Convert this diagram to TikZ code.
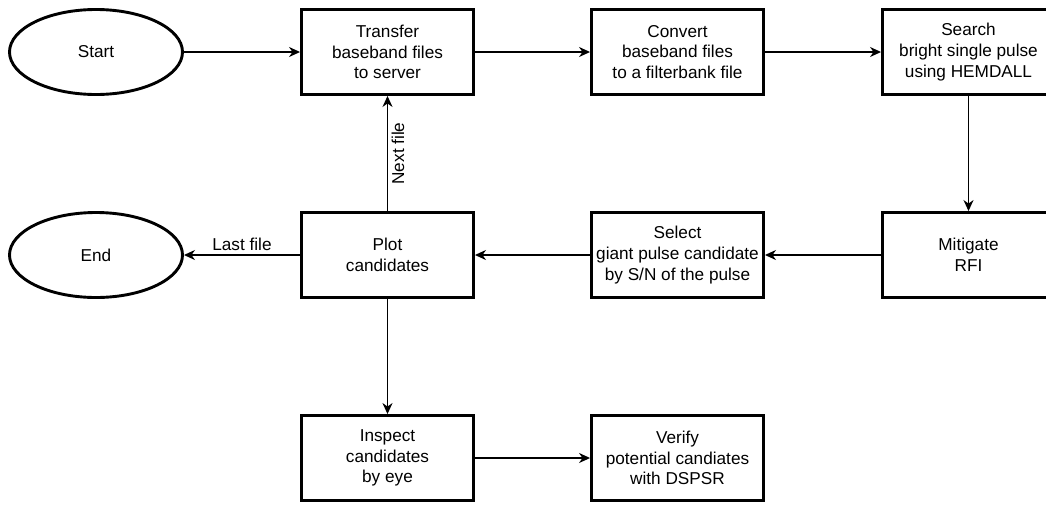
\documentclass[tikz,border=0pt]{standalone}
\usepackage{fontspec}
\setmainfont{Liberation Sans}
\usetikzlibrary{shapes.geometric}
\usetikzlibrary{arrows.meta}
\tikzset{
	process/.style={
			draw, line width=2.9pt, minimum width=172pt, minimum height=85pt,
			align=center, font=\fontsize{17.2}{20.6}\selectfont
		},
	terminal/.style={
			draw, ellipse, line width=2.9pt, minimum width=173pt, minimum height=85pt,
			font=\fontsize{17.2}{20.6}\selectfont
		},
	flow/.style={
			line width=1.4pt, -{Stealth[length=11pt, width=10pt, inset=3.5pt]}
		}
}

\begin{document}
\begin{tikzpicture}[x=1pt,y=-1pt]
		\useasboundingbox (0,0) rectangle (1046,504);
		\clip (0,0) rectangle (1046,504);
		\node[terminal] (start) at (96,52) {Start};
		\node[process] (transfer) at (387.5,52) {Transfer\\baseband files\\to server};
		\node[process] (convert) at (677.5,52) {Convert\\baseband files\\to a filterbank file};
		\node[process] (search) at (968.5,52) {Search\\bright single pulse\\using HEMDALL};
		\node[process] (mitigate) at (968.5,255) {Mitigate\\RFI};
		\node[process] (select) at (677.5,255) {Select\\giant pulse candidate\\by S/N of the pulse};
		\node[process] (plot) at (387.5,255) {Plot\\candidates};
		\node[terminal] (end) at (96,255) {End};
		\node[process] (inspect) at (387.5,458) {Inspect\\candidates\\by eye};
		\node[process] (verify) at (677.5,458) {Verify\\potential candiates\\with DSPSR};

		\draw[flow] (start) -- (transfer);
		\draw[flow] (transfer) -- (convert);
		\draw[flow] (convert) -- (search);
		\draw[flow] (search) -- (mitigate);
		\draw[flow] (mitigate) -- (select);
		\draw[flow] (select) -- (plot);
		\draw[flow] (plot) -- (end) node[midway, above, font=\fontsize{17.2}{20.6}\selectfont]{Last file};
		\draw[flow] (plot) -- (transfer) node[midway, rotate=90, anchor=north, font=\fontsize{17.2}{20.6}\selectfont]{Next file};
		\draw[flow] (plot) -- (inspect);
		\draw[flow] (inspect) -- (verify);

	\end{tikzpicture}
\end{document}
